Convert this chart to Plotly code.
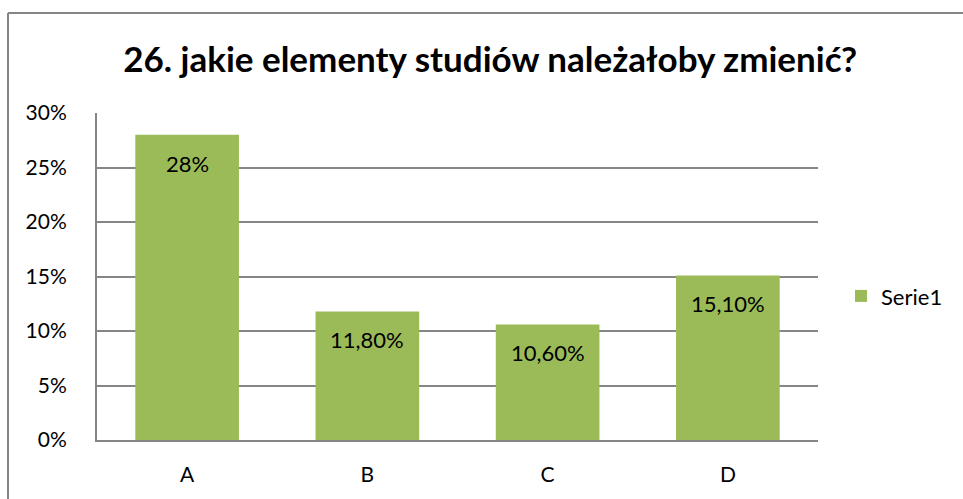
import plotly.graph_objects as go

categories = ["A", "B", "C", "D"]
values = [0.28, 0.118, 0.106, 0.151]
value_labels = ["28%", "11,80%", "10,60%", "15,10%"]
series_name = "Serie1"
title_text = "26. jakie elementy studiów należałoby zmienić?"
y_tickvals = [0, 0.05, 0.10, 0.15, 0.20, 0.25, 0.30]
y_ticktext = ["0%", "5%", "10%", "15%", "20%", "25%", "30%"]

FONT = "Lato"
GRID = "#868686"
BAR = "#9BBB59"

fig = go.Figure()
fig.add_trace(go.Bar(
    x=categories, y=values, name=series_name,
    marker=dict(color=BAR, line=dict(width=0)),
    width=0.575, showlegend=True,
))

annotations = []
for c, v, t in zip(categories, values, value_labels):
    annotations.append(dict(
        x=c, y=v, xref="x", yref="y", text=t, showarrow=False,
        yanchor="top", yshift=-13,
        font=dict(family=FONT, size=22, color="#000000"),
    ))

bx0 = (8 - 97) / 721
bx1 = (963 - 97) / 721
by_top = 1 + (113 - 13) / 327
by_bot = -0.3

fig.update_layout(
    width=963, height=499,
    margin=dict(l=97, r=145, t=113, b=59),
    paper_bgcolor="white", plot_bgcolor="white",
    font=dict(family=FONT, color="#000000"),
    title=dict(
        text="<b>" + title_text + "</b>",
        x=0.509, xanchor="center", y=1 - 60 / 499, yanchor="middle",
        font=dict(family=FONT, size=35, color="#000000"),
    ),
    xaxis=dict(
        showgrid=False, showline=True, linecolor=GRID, linewidth=2,
        ticks="", tickfont=dict(family=FONT, size=21, color="#000000"),
        ticklabelstandoff=15,
    ),
    yaxis=dict(
        range=[0, 0.30], tickvals=y_tickvals, ticktext=y_ticktext,
        showgrid=True, gridcolor=GRID, gridwidth=1.5,
        showline=True, linecolor=GRID, linewidth=2,
        zeroline=False, ticks="",
        tickfont=dict(family=FONT, size=21, color="#000000"),
        ticklabelstandoff=24,
    ),
    legend=dict(
        x=(841 - 97) / 721, xanchor="left", y=0.44, yanchor="middle",
        font=dict(family=FONT, size=22, color="#000000"),
        bgcolor="rgba(0,0,0,0)",
    ),
    annotations=annotations,
    shapes=[
        dict(type="line", xref="paper", yref="paper",
             x0=bx0, x1=bx1, y0=by_top, y1=by_top,
             line=dict(color=GRID, width=2), layer="below"),
        dict(type="line", xref="paper", yref="paper",
             x0=bx0, x1=bx0, y0=by_top, y1=by_bot,
             line=dict(color=GRID, width=2), layer="below"),
    ],
)

fig.write_html(
    "out.html",
    config={"displayModeBar": False},
    post_script="document.body.style.margin='0';document.body.style.overflow='hidden';",
)
